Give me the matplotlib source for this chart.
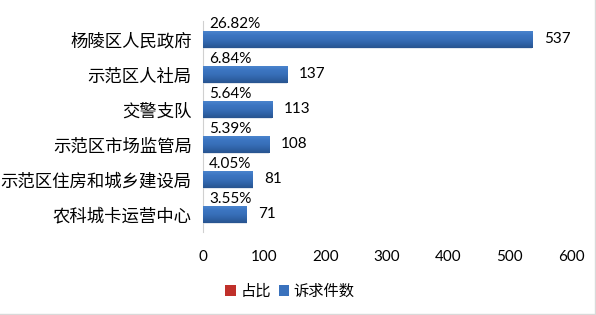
import numpy as np
import matplotlib
matplotlib.use("Agg")
import matplotlib.pyplot as plt
from matplotlib.colors import LinearSegmentedColormap
from matplotlib.patches import Patch
from matplotlib.lines import Line2D

plt.rcParams['font.family'] = ['Lato', 'Noto Sans CJK SC', 'DejaVu Sans']

categories = ["杨陵区人民政府", "示范区人社局", "交警支队", "示范区市场监管局",
              "示范区住房和城乡建设局", "农科城卡运营中心"]
counts = [537, 137, 113, 108, 81, 71]
ratios = [26.82, 6.84, 5.64, 5.39, 4.05, 3.55]
xticks = [0, 100, 200, 300, 400, 500, 600]
series_names = ["占比", "诉求件数"]

fig = plt.figure(figsize=(5.96, 3.15), dpi=100)
ax = fig.add_axes([203/596, 1-232/315, 368/596, 211/315])

ys = np.arange(len(categories))
bars = ax.barh(ys, counts, height=0.48, color="#3a72bd", zorder=2)
rbars = ax.barh(ys - 0.52, [r/100 for r in ratios], height=0.3, color="#c0302a", zorder=2)

# gradient fill on count bars
cmap = LinearSegmentedColormap.from_list("g", ["#4a84cd", "#3c75c1", "#376fb8", "#2f62a6", "#28548f"])
grad = np.linspace(0, 1, 64).reshape(-1, 1)
for b in bars:
    x0, y0, w, h = b.get_x(), b.get_y(), b.get_width(), b.get_height()
    ax.imshow(grad, extent=[x0, x0 + w, y0 + h, y0], cmap=cmap, aspect='auto', zorder=3)
    ax.barh(y0 + h, w, height=0.04, left=x0, align='edge', color="#e3e7ee", zorder=1)
ax.set_xlim(0, 600)
ax.set_ylim(5.5, -0.52)

for b, v in zip(bars, counts):
    ax.annotate(f"{v}", (b.get_width(), b.get_y() + b.get_height()/2),
                xytext=(8.6, 0), textcoords="offset points", ha="left", va="center",
                fontsize=11, color="#000000")
for b, r in zip(rbars, ratios):
    ax.annotate(f"{r:.2f}%", (b.get_width(), b.get_y() + b.get_height()/2),
                xytext=(4.5, -2), textcoords="offset points", ha="left", va="center",
                fontsize=11, color="#000000")

ax.set_yticks(ys)
ax.set_yticklabels(categories, family=['Noto Sans CJK SC'], fontsize=12.5)
ax.set_xticks(xticks)
ax.set_xticklabels([str(t) for t in xticks], fontsize=11)
ax.tick_params(axis='both', length=0)
ax.tick_params(axis='x', pad=13)
ax.tick_params(axis='y', pad=8)
for s in ["top", "right", "bottom"]:
    ax.spines[s].set_visible(False)
ax.spines["left"].set_color("#d0d0d0")

handles = [Patch(facecolor="#c0302a"), Patch(facecolor="#3a72bd")]
fig.legend(handles, series_names, loc="center", bbox_to_anchor=(290/596, 1-291/315),
           ncol=2, frameon=False, handlelength=0.7, handleheight=0.7,
           handletextpad=0.3, columnspacing=0.5, prop={'family': ['Noto Sans CJK SC'], 'size': 11})

fig.add_artist(Line2D([0, 1], [1/315, 1/315], transform=fig.transFigure, color="#d9d9d9", lw=1))
fig.add_artist(Line2D([594.5/596, 594.5/596], [0, 1], transform=fig.transFigure, color="#d9d9d9", lw=1))

fig.savefig("out.png", dpi=100)
